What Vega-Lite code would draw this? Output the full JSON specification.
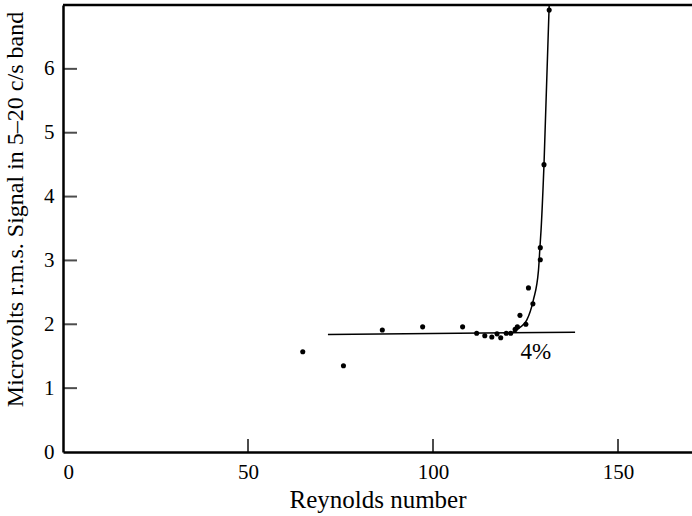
{
  "$schema": "https://vega.github.io/schema/vega-lite/v6.json",
  "autosize": "none",
  "padding": {"left": 63, "top": 5, "right": 0, "bottom": 64},
  "width": 629,
  "height": 447,
  "background": "white",
  "config": {
    "view": {"stroke": null},
    "font": "Liberation Serif",
    "axis": {
      "grid": false,
      "domainColor": "black",
      "domainWidth": 2.5,
      "ticks": false,
      "labelColor": "black",
      "labelFont": "Liberation Serif",
      "labelFontSize": 21,
      "titleColor": "black",
      "titleFont": "Liberation Serif",
      "titleFontSize": 24,
      "titleFontWeight": "normal"
    }
  },
  "datasets": {
    "pts": [
      {"re": 64.8, "v": 1.57}, {"re": 75.8, "v": 1.35}, {"re": 86.3, "v": 1.91},
      {"re": 97.2, "v": 1.96}, {"re": 108.0, "v": 1.96}, {"re": 111.8, "v": 1.86},
      {"re": 114.0, "v": 1.82}, {"re": 115.9, "v": 1.80}, {"re": 117.3, "v": 1.85},
      {"re": 118.3, "v": 1.79}, {"re": 119.8, "v": 1.86}, {"re": 121.0, "v": 1.86},
      {"re": 122.2, "v": 1.92}, {"re": 122.8, "v": 1.96}, {"re": 123.5, "v": 2.14},
      {"re": 125.1, "v": 2.00}, {"re": 125.8, "v": 2.57}, {"re": 127.0, "v": 2.32},
      {"re": 129.0, "v": 3.01}, {"re": 129.0, "v": 3.20}, {"re": 130.0, "v": 4.50},
      {"re": 131.4, "v": 6.92}
    ],
    "lines": [
      {"s": "flat", "re": 71.6, "v": 1.84},
      {"s": "flat", "re": 138.4, "v": 1.875},
      {"s": "curve", "re": 119.5, "v": 1.85},
      {"s": "curve", "re": 121.6, "v": 1.875},
      {"s": "curve", "re": 123.5, "v": 1.95},
      {"s": "curve", "re": 125.3, "v": 2.06},
      {"s": "curve", "re": 127.1, "v": 2.375},
      {"s": "curve", "re": 128.5, "v": 2.84},
      {"s": "curve", "re": 128.9, "v": 3.2},
      {"s": "curve", "re": 129.2, "v": 3.47},
      {"s": "curve", "re": 130.0, "v": 4.5},
      {"s": "curve", "re": 131.4, "v": 7.0}
    ],
    "labels": [{"re": 127.8, "v": 1.56, "t": "4%"}],
    "xticks": [{"t": 50}, {"t": 100}, {"t": 150}],
    "yticks": [{"t": 1}, {"t": 2}, {"t": 3}, {"t": 4}, {"t": 5}, {"t": 6}]
  },
  "layer": [
    {
      "data": {"name": "lines"},
      "mark": {"type": "line", "color": "black", "strokeWidth": 1.5, "interpolate": "monotone"},
      "encoding": {
        "x": {"field": "re", "type": "quantitative", "scale": {"domain": [0, 170], "nice": false},
          "axis": {"values": [0, 50, 100, 150], "format": "d", "title": "Reynolds number", "titleFontSize": 25, "labelPadding": 9, "titlePadding": 5}},
        "y": {"field": "v", "type": "quantitative", "scale": {"domain": [0, 7], "nice": false},
          "axis": {"values": [0, 1, 2, 3, 4, 5, 6], "format": "d", "title": "Microvolts r.m.s. Signal in 5–20 c/s band", "labelPadding": 9, "titleY": 204, "titleX": -36}},
        "detail": {"field": "s"}
      }
    },
    {
      "data": {"name": "xticks"},
      "mark": {"type": "tick", "color": "black", "orient": "vertical", "size": 13, "thickness": 2, "yOffset": -6.5},
      "encoding": {
        "x": {"field": "t", "type": "quantitative"},
        "y": {"datum": 0}
      }
    },
    {
      "data": {"name": "yticks"},
      "mark": {"type": "tick", "color": "black", "orient": "horizontal", "size": 14, "thickness": 2, "xOffset": 7},
      "encoding": {
        "y": {"field": "t", "type": "quantitative"},
        "x": {"datum": 0}
      }
    },
    {
      "data": {"name": "pts"},
      "mark": {"type": "circle", "color": "black", "opacity": 1, "size": 26},
      "encoding": {
        "x": {"field": "re", "type": "quantitative"},
        "y": {"field": "v", "type": "quantitative"}
      }
    },
    {
      "data": {"name": "labels"},
      "mark": {"type": "text", "font": "Liberation Serif", "fontSize": 23, "color": "black"},
      "encoding": {
        "x": {"field": "re", "type": "quantitative"},
        "y": {"field": "v", "type": "quantitative"},
        "text": {"field": "t"}
      }
    },
    {
      "data": {"values": [{}]},
      "mark": {"type": "rule", "color": "black", "strokeWidth": 2.5},
      "encoding": {"y": {"datum": 7}}
    }
  ]
}
